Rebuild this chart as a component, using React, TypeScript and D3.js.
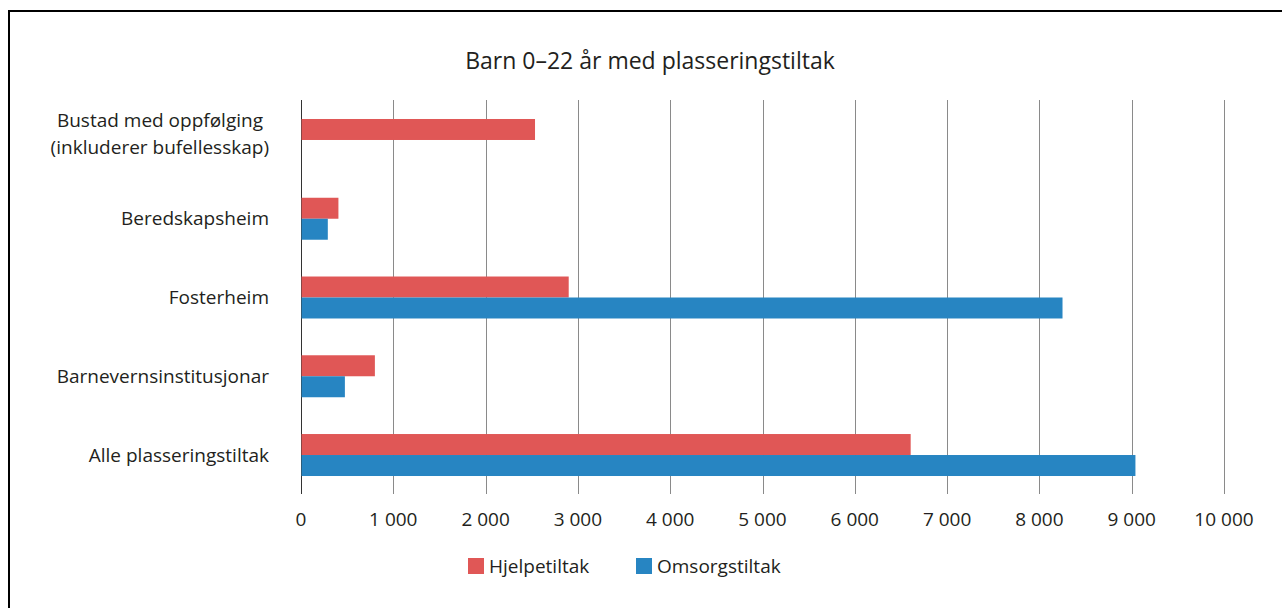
import React from "react";
import * as d3 from "d3";

const categories = [
  "Bustad med oppfølging|(inkluderer bufellesskap)",
  "Beredskapsheim",
  "Fosterheim",
  "Barnevernsinstitusjonar",
  "Alle plasseringstiltak",
];
const seriesNames = ["Hjelpetiltak", "Omsorgstiltak"];
const hjelpetiltak = [2530, 400, 2895, 795, 6600];
const omsorgstiltak = [0, 285, 8245, 470, 9035];
const tickValues = [0, 1000, 2000, 3000, 4000, 5000, 6000, 7000, 8000, 9000, 10000];
const colors = ["#E05756", "#2785C2"];

const W = 1282;
const H = 608;
const FONT = "'Open Sans', 'Noto Sans', sans-serif";
const FS = 19;

export default function App() {
  const x = d3.scaleLinear().domain([0, 10000]).range([301, 1224]);
  const y = d3
    .scaleBand()
    .domain(categories)
    .range([100.6, 494.4])
    .paddingInner(0.467)
    .paddingOuter(0.2335);
  const sub = d3.scaleBand().domain(seriesNames).range([0, y.bandwidth()]);
  const fmt = (v: number) => d3.format(",")(v).replace(/,/g, " ");
  const seriesValues = [hjelpetiltak, omsorgstiltak];

  return (
    <svg
      width={W}
      height={H}
      style={{ position: "absolute", left: 0, top: 0, background: "#fff" }}
      fontFamily={FONT}
    >
      <rect x={0} y={0} width={W} height={H} fill="#fff" />
      {/* frame */}
      <line x1={9} y1={10} x2={9} y2={H + 5} stroke="#000" strokeWidth={2} />
      <line x1={8} y1={11} x2={W + 5} y2={11} stroke="#000" strokeWidth={2} />

      <text x={650} y={69} textAnchor="middle" fontSize={23} fill="#231f20">
        Barn 0–22 år med plasseringstiltak
      </text>

      {/* gridlines */}
      {tickValues.map((t) => (
        <line
          key={t}
          x1={Math.round(x(t)) + 0.5}
          x2={Math.round(x(t)) + 0.5}
          y1={100}
          y2={494}
          stroke={t === 0 ? "#333" : "#8a8a8a"}
          strokeWidth={1}
        />
      ))}

      {/* bars */}
      {categories.map((c, i) => (
        <g key={c}>
          {seriesNames.map((s, j) => {
            const v = seriesValues[j][i];
            if (!v) return null;
            return (
              <rect
                key={s}
                x={x(0) + 0.5}
                y={(y(c) as number) + (sub(s) as number)}
                width={x(v) - x(0)}
                height={sub.bandwidth()}
                fill={colors[j]}
              />
            );
          })}
        </g>
      ))}

      {/* category labels */}
      {categories.map((c) => {
        const lines = c.split("|");
        const cy = (y(c) as number) + y.bandwidth() / 2;
        if (lines.length === 1) {
          return (
            <text
              key={c}
              x={269}
              y={cy}
              dy="0.35em"
              textAnchor="end"
              fontSize={FS}
              fill="#231f20"
            >
              {c}
            </text>
          );
        }
        return (
          <text key={c} textAnchor="end" fontSize={FS} fill="#231f20">
            <tspan x={263} y={cy - 20} dy="0.35em">
              {lines[0]}
            </tspan>
            <tspan x={269} y={cy + 7} dy="0.35em">
              {lines[1]}
            </tspan>
          </text>
        );
      })}

      {/* tick labels */}
      {tickValues.map((t) => (
        <text
          key={t}
          x={x(t)}
          y={519}
          dy="0.35em"
          textAnchor="middle"
          fontSize={FS}
          fill="#231f20"
        >
          {fmt(t)}
        </text>
      ))}

      {/* legend */}
      {seriesNames.map((s, j) => {
        const lx = j === 0 ? 468 : 636;
        return (
          <g key={s}>
            <rect x={lx} y={558} width={16} height={16} fill={colors[j]} />
            <text x={lx + 21} y={566} dy="0.35em" fontSize={FS} fill="#231f20">
              {s}
            </text>
          </g>
        );
      })}
    </svg>
  );
}
